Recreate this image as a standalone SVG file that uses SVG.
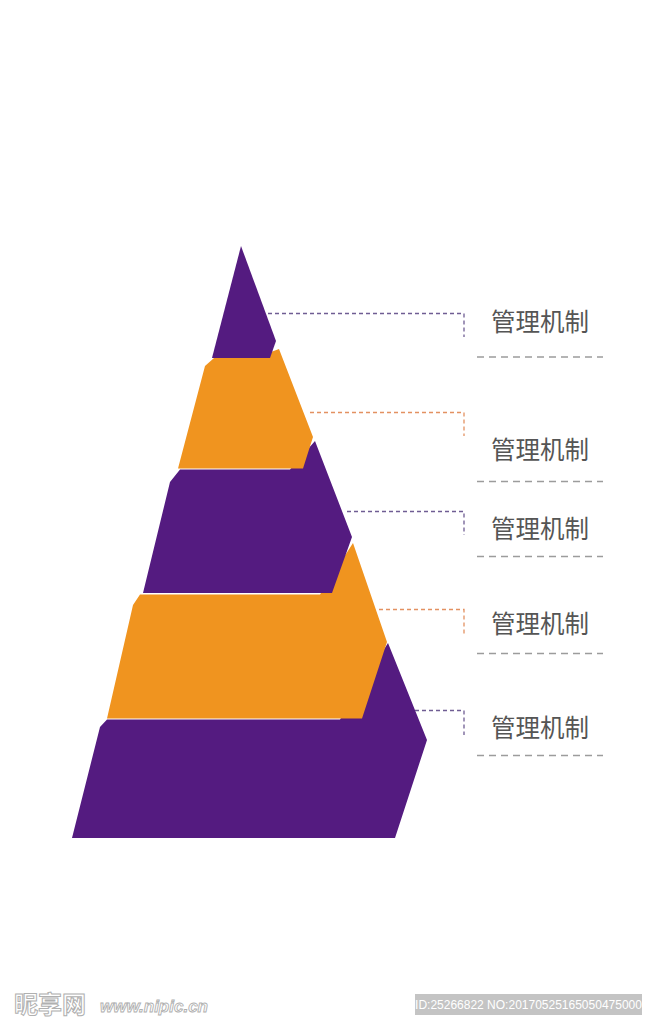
<svg xmlns="http://www.w3.org/2000/svg" width="652" height="1024" viewBox="0 0 652 1024">
<style>
.p{fill:#541b80}
.o{fill:#f0941f}
.cp{fill:none;stroke:#6f5d93;stroke-width:1.3;stroke-dasharray:4 3}
.co{fill:none;stroke:#e39161;stroke-width:1.3;stroke-dasharray:4 3}
.ul{fill:none;stroke:#9c9c9c;stroke-width:1.3;stroke-dasharray:7 5}
.t{font-family:"Noto Sans CJK SC","Noto Sans",sans-serif;font-size:24.5px;fill:#555;dominant-baseline:central}
</style>
<rect width="652" height="1024" fill="#ffffff"/>
<g id="layer5"><polygon class="p" points="72,838 100,727 107,719.5 340,719.5 388,643 427,740 395,838"/></g>
<g id="layer4"><polygon class="o" points="107,718.5 133,605 140,594.5 320,594.5 353,543 387,642 362,718.5"/></g>
<g id="layer3"><polygon class="p" points="143,593 170,482 180,469.5 290,469.5 315,441 352,537 332,593"/></g>
<g id="layer2"><polygon class="o" points="178,468.5 205,366 214,358 255,358 279,349 313,437 303,468.5"/></g>
<g id="layer1"><polygon class="p" points="241,246 276,341 270,358 212,358"/></g>
<g id="connectors">
<polyline class="cp" points="268,313.5 464,313.5 464,337"/>
<polyline class="co" points="310,412.5 464,412.5 464,436"/>
<polyline class="cp" points="347,511.5 464,511.5 464,535"/>
<polyline class="co" points="379,609.5 464,609.5 464,635"/>
<polyline class="cp" points="415,710.5 464,710.5 464,735"/>
<line class="ul" x1="477" y1="357" x2="603" y2="357"/>
<line class="ul" x1="477" y1="481.5" x2="603" y2="481.5"/>
<line class="ul" x1="477" y1="556.5" x2="603" y2="556.5"/>
<line class="ul" x1="477" y1="653.5" x2="603" y2="653.5"/>
<line class="ul" x1="477" y1="755.5" x2="603" y2="755.5"/>
</g>
<g id="label1"><text class="t" x="491" y="320">管理机制</text></g>
<g id="label2"><text class="t" x="491" y="448">管理机制</text></g>
<g id="label3"><text class="t" x="491" y="527">管理机制</text></g>
<g id="label4"><text class="t" x="491" y="622">管理机制</text></g>
<g id="label5"><text class="t" x="491" y="726">管理机制</text></g>
<g id="watermark">
<text x="14" y="1013" font-family="'Noto Sans CJK SC',sans-serif" font-size="24" font-weight="bold" fill="#ffffff" stroke="#b0b0b0" stroke-width="1">昵享网</text>
<text x="100" y="1012" font-family="'Liberation Sans',sans-serif" font-size="17" font-style="italic" font-weight="bold" fill="#ffffff" stroke="#b0b0b0" stroke-width="0.9">www.nipic.cn</text>
<rect x="415" y="994" width="227" height="21" fill="#c4c4c4"/>
<text x="528.5" y="1005" text-anchor="middle" dominant-baseline="central" font-family="'Liberation Sans',sans-serif" font-size="12" fill="#ffffff">ID:25266822 NO:20170525165050475000</text>
</g>
</svg>
